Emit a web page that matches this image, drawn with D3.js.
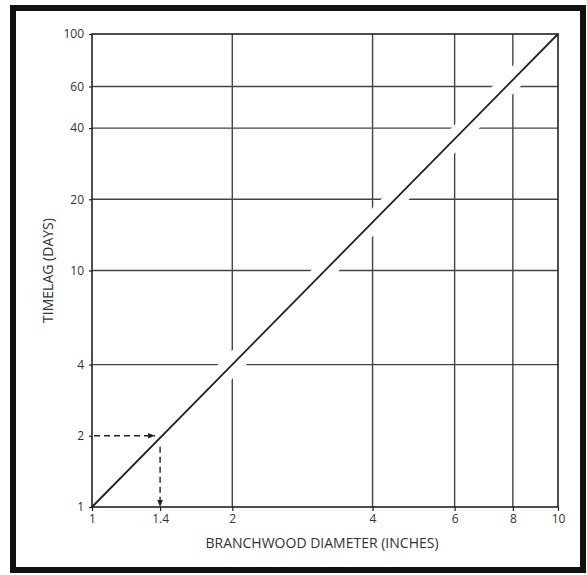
<!DOCTYPE html>
<html><head><meta charset="utf-8">
<script src="https://cdn.jsdelivr.net/npm/d3@7"></script>
<style>body{margin:0;background:#fff;}svg{display:block;}</style>
</head><body>
<script>
const diameters = [1, 10];
const timelags = [1, 100];
const xTickValues = [1, 1.4, 2, 4, 6, 8, 10];
const xTickLabels = ["1", "1.4", "2", "4", "6", "8", "10"];
const yTickValues = [1, 2, 4, 10, 20, 40, 60, 100];
const yTickLabels = ["1", "2", "4", "10", "20", "40", "60", "100"];
const xGridValues = [2, 4, 6, 8];
const yGridValues = [4, 10, 20, 40, 60];
const exampleDiameter = [1.4];
const exampleTimelag = [2];

const W = 587, H = 575;
const m = {left: 92, right: 29, top: 34, bottom: 68};
const svg = d3.select("body").append("svg").attr("width", W).attr("height", H);
const font = "'Open Sans', 'DejaVu Sans', sans-serif";
const ink = "#222";
const gridInk = "#444";

svg.append("defs").append("marker")
  .attr("id", "arr").attr("viewBox", "0 0 10 10").attr("refX", 10).attr("refY", 5)
  .attr("markerWidth", 7).attr("markerHeight", 7).attr("orient", "auto")
  .attr("markerUnits", "userSpaceOnUse")
  .append("path").attr("d", "M0,1 L10,5 L0,9 Z").attr("fill", ink);

// outer frame
svg.append("rect").attr("x", 13).attr("y", 8).attr("width", 570).attr("height", 562)
  .attr("fill", "none").attr("stroke", "#111").attr("stroke-width", 6);

const x = d3.scaleLog().domain([1, 10]).range([m.left, W - m.right]);
const y = d3.scaleLog().domain([1, 100]).range([H - m.bottom, m.top]);

const g = svg.append("g");
// grid
g.selectAll(".vg").data(xGridValues).join("line")
  .attr("x1", d => x(d)).attr("x2", d => x(d)).attr("y1", y(1)).attr("y2", y(100))
  .attr("stroke", gridInk).attr("stroke-width", 1.4);
g.selectAll(".hg").data(yGridValues).join("line")
  .attr("x1", x(1)).attr("x2", x(10)).attr("y1", d => y(d)).attr("y2", d => y(d))
  .attr("stroke", gridInk).attr("stroke-width", 1.4);

// diagonal with white halo (grid lines break where the line crosses)
const lineData = diameters.map((d, i) => [d, timelags[i]]);
const lineGen = d3.line().x(d => x(d[0])).y(d => y(d[1]));
g.append("path").datum(lineData).attr("d", lineGen)
  .attr("stroke", "#fff").attr("stroke-width", 20).attr("fill", "none");

// plot border
g.append("rect").attr("x", x(1)).attr("y", y(100))
  .attr("width", x(10) - x(1)).attr("height", y(1) - y(100))
  .attr("fill", "none").attr("stroke", ink).attr("stroke-width", 1.6);

g.append("path").datum(lineData).attr("d", lineGen)
  .attr("stroke", ink).attr("stroke-width", 1.8).attr("fill", "none");

// axes (labels only)
const xAxis = d3.axisBottom(x).tickValues(xTickValues)
  .tickFormat((d, i) => xTickLabels[i]).tickSize(4).tickPadding(3);
const xa = svg.append("g").attr("transform", `translate(0,${y(1)})`).call(xAxis);
const yAxis = d3.axisLeft(y).tickValues(yTickValues)
  .tickFormat((d, i) => yTickLabels[i]).tickSize(3).tickPadding(5);
const ya = svg.append("g").attr("transform", `translate(${x(1)},0)`).call(yAxis);
[xa, ya].forEach(a => {
  a.select(".domain").remove();
  a.selectAll(".tick line").attr("stroke", ink).attr("stroke-width", 1.2);
  a.selectAll("text").attr("font-family", font).attr("font-size", 12).attr("fill", "#333");
});

// example dashed arrows
const ex = exampleDiameter[0], ey = exampleTimelag[0];
svg.append("line").attr("x1", x(1) + 2).attr("y1", y(ey)).attr("x2", x(ex) - 5).attr("y2", y(ey))
  .attr("stroke", ink).attr("stroke-width", 1.4).attr("stroke-dasharray", "6,4")
  .attr("marker-end", "url(#arr)");
svg.append("line").attr("x1", x(ex)).attr("y1", y(ey) + 11).attr("x2", x(ex)).attr("y2", y(1))
  .attr("stroke", ink).attr("stroke-width", 1.4).attr("stroke-dasharray", "6,4")
  .attr("marker-end", "url(#arr)");

// axis titles
svg.append("text").attr("x", 322).attr("y", 548)
  .attr("text-anchor", "middle").attr("font-family", font).attr("font-size", 14)
  .attr("fill", "#333").text("BRANCHWOOD DIAMETER (INCHES)");
svg.append("text").attr("transform", `translate(53,${(y(1) + y(100)) / 2}) rotate(-90)`)
  .attr("text-anchor", "middle").attr("font-family", font).attr("font-size", 14)
  .attr("fill", "#333").text("TIMELAG (DAYS)");
</script>
</body></html>
